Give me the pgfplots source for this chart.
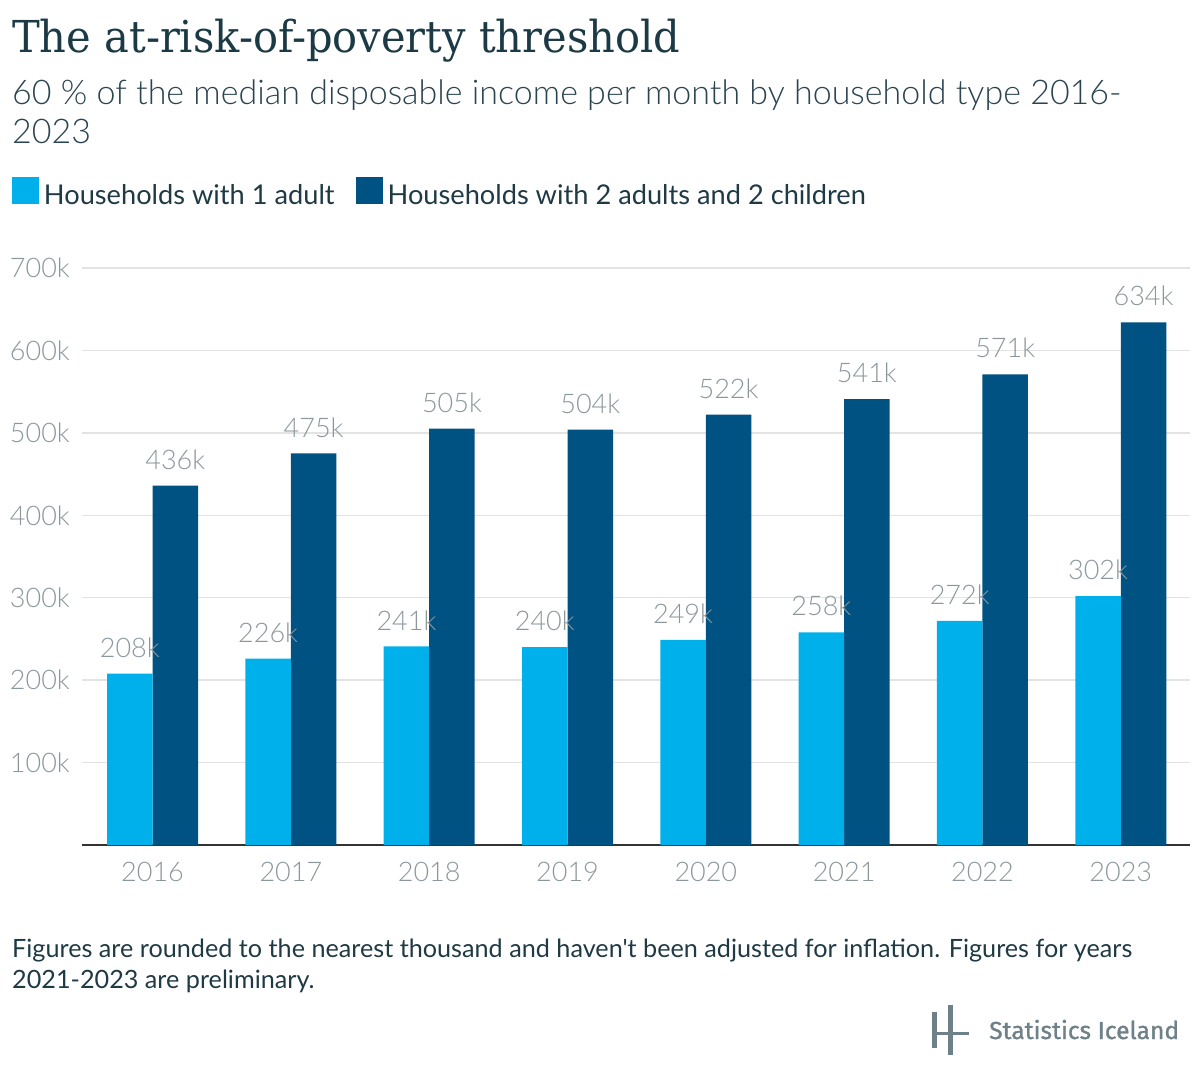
\documentclass[border=0pt]{standalone}
\usepackage{fontspec}
\setmainfont{Lato}
\newfontfamily\light{Lato Light}
\newfontfamily\footfont{Lato}[Ligatures=TeXOff]
\newfontfamily\titlefont{DejaVu Serif}
\newfontfamily\logofont{Fira Sans}
\usepackage{graphicx}
\usepackage{pgfplots}
\pgfplotsset{compat=1.18}
\definecolor{titlecol}{HTML}{1B3A46}
\definecolor{textcol}{HTML}{1F3A44}
\definecolor{subcol}{HTML}{2A4450}
\definecolor{labelgray}{HTML}{8C979C}
\definecolor{gridgray}{HTML}{E3E3E3}
\definecolor{lightbar}{HTML}{00B0EA}
\definecolor{darkbar}{HTML}{005283}
\definecolor{logocol}{HTML}{6E8189}
\begin{document}
\begin{tikzpicture}[x=1pt,y=1pt]
\path[use as bounding box] (0,0) rectangle (1200,-1082);
\node[anchor=base west, inner sep=0pt, text=titlecol] at (12,-52)
  {\resizebox{668pt}{\height}{\titlefont\fontsize{44}{50}\selectfont The at-risk-of-poverty threshold}};
\node[anchor=base west, inner sep=0pt, text=subcol] at (12,-104)
  {\light\fontsize{34}{40}\selectfont 60 \% of the median disposable income per month by household type 2016-};
\node[anchor=base west, inner sep=0pt, text=subcol] at (12,-143)
  {\light\fontsize{34}{40}\selectfont 2023};
\node[anchor=base west, inner sep=0pt, text=textcol] at (12,-957)
  {\footfont\fontsize{25.2}{30}\selectfont Figures are rounded to the nearest thousand and haven't been adjusted for inflation. Figures for years};
\node[anchor=base west, inner sep=0pt, text=textcol] at (12,-988)
  {\footfont\fontsize{25.2}{30}\selectfont 2021-2023 are preliminary.};
% logo
\fill[logocol] (932,-1012) rectangle (937,-1048);
\fill[logocol] (948,-1005) rectangle (953,-1055);
\fill[logocol] (932,-1032) rectangle (969,-1035);
\node[anchor=base west, inner sep=0pt, text=logocol] at (989,-1039)
  {\logofont\fontsize{24.6}{28}\selectfont\addfontfeature{FakeBold=1.2} Statistics Iceland};
\begin{axis}[
  at={(82pt,-845pt)}, anchor=south west,
  scale only axis, width=1108pt, height=577pt,
  xmin=-0.51, xmax=7.5, ymin=0, ymax=700,
  enlargelimits=false, clip=false,
  ybar, bar width=45.5pt,
  axis x line*=bottom, axis y line*=left,
  y axis line style={draw=none},
  x axis line style={draw=black!80, line width=2pt},
  major tick length=0pt,
  ytick={100,200,300,400,500,600,700},
  yticklabel={\pgfmathprintnumber[assume math mode=true]{\tick}k},
  yticklabel style={anchor=east, inner sep=0pt, xshift=-12pt, font=\light\fontsize{27}{30}\selectfont, text=labelgray},
  xtick={0,1,2,3,4,5,6,7},
  xticklabels={2016,2017,2018,2019,2020,2021,2022,2023},
  xticklabel style={anchor=north, inner sep=0pt, yshift=-17pt, font=\light\fontsize{27}{30}\selectfont, text=labelgray},
  ymajorgrids, grid style={draw=gridgray, line width=1.5pt},
  nodes near coords={\pgfmathprintnumber[assume math mode=true]{\pgfplotspointmeta}k},
  nodes near coords style={anchor=south, inner sep=0pt, yshift=16pt, font=\light\fontsize{27}{30}\selectfont, text=labelgray},
  legend style={at={(axis description cs:-0.0632,1.1576)}, anchor=north west, draw=none, fill=none,
    inner sep=0pt, outer sep=0pt, font=\fontsize{27.2}{32}\selectfont, text=textcol,
    nodes={inner sep=0pt},
    /tikz/every odd column/.append style={column sep=5pt},
    /tikz/every even column/.append style={column sep=21pt}},
  legend columns=2, reverse legend,
  legend image code/.code={\fill[#1] (-2pt,-9pt) rectangle (25pt,18pt);},
]
\addplot[fill=darkbar, draw=none, bar shift=22.75pt] coordinates {
  (0,436) (1,475) (2,505) (3,504) (4,522) (5,541) (6,571) (7,634)};
\addlegendentry{Households with 2 adults and 2 children}
\addplot[fill=lightbar, draw=none, bar shift=-22.75pt] coordinates {
  (0,208) (1,226) (2,241) (3,240) (4,249) (5,258) (6,272) (7,302)};
\addlegendentry{Households with 1 adult}
\end{axis}
\end{tikzpicture}
\end{document}
